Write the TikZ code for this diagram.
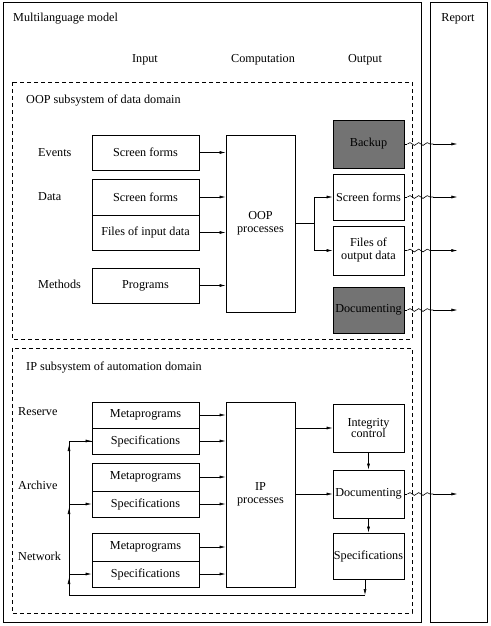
\documentclass[tikz,border=0pt]{standalone}
\usepackage{fontspec}
\setmainfont{Liberation Serif}
\usetikzlibrary{arrows.meta,decorations.pathmorphing}
\definecolor{boxgray}{RGB}{115,115,115}
\begin{document}
\begin{tikzpicture}[x=1pt,y=-1pt, font=\fontsize{12.2}{13}\selectfont,
 box/.style={draw, line width=0.8pt, inner sep=0pt, align=center},
 gbox/.style={box, fill=boxgray},
 arr/.style={line width=0.6pt, -{Latex[length=6pt,width=3pt]}},
 ln/.style={line width=0.6pt},
 frame/.style={draw, line width=1pt},
 dbox/.style={draw, line width=0.8pt, dash pattern=on 4pt off 3pt},
 wave/.style={line width=0.6pt, decorate, decoration={snake, amplitude=1.4pt, segment length=8.6pt}},
 lbl/.style={anchor=west, inner sep=0pt}
]
\useasboundingbox (0,0) rectangle (490,626);
% frames
\draw[frame] (3,3) rectangle (421,622);
\draw[frame] (430,3) rectangle (487,622);
\draw[dbox] (12,82) rectangle (412,339);
\draw[dbox] (12,348) rectangle (412,613);
% titles
\node[lbl] (tml) at (13,19) {Multilanguage model};
\node (trep) at (458,19) {Report};
\node (tin) at (145,60) {Input};
\node (tcomp) at (263,60) {Computation};
\node (tout) at (365,60) {Output};
\node[lbl] (toop) at (26,101) {OOP subsystem of data domain};
\node[lbl] (tip) at (26,368) {IP subsystem of automation domain};
% OOP labels
\node[lbl] (lev) at (38,153) {Events};
\node[lbl] (lda) at (38,197) {Data};
\node[lbl] (lme) at (38,284) {Methods};
% OOP input boxes
\node[box, minimum width=107pt, minimum height=35pt] (ev) at (145.5,152.5) {Screen forms};
\node[box, minimum width=107pt, minimum height=36pt] (d1) at (145.5,197) {Screen forms};
\node[box, minimum width=107pt, minimum height=35pt] (d2) at (145.5,232.5) {Files of input data};
\node[box, minimum width=107pt, minimum height=35pt] (prog) at (145.5,285.5) {Programs};
\node[box, minimum width=69pt, minimum height=177pt] (oop) at (260.5,223.5) {OOP\\processes};
% OOP outputs
\node[gbox, minimum width=71pt, minimum height=48pt] (backup) at (368.5,144) {Backup};
\node[box, minimum width=71pt, minimum height=46pt] (osf) at (368.5,197) {Screen forms};
\node[box, minimum width=71pt, minimum height=49pt] (ofi) at (368.5,250.5) {Files of\\output data};
\node[gbox, minimum width=71pt, minimum height=46pt] (odoc) at (368.5,310) {Documenting};
% OOP arrows
\foreach \n in {ev,d1,d2,prog} \draw[arr] (\n.east) -- (\n.east -| oop.west);
\coordinate (br) at (314,223);
\draw[ln] (oop.east |- br) -- (br);
\draw[arr] (br) |- (osf.west);
\draw[arr] (br) |- (ofi.west);
% waves to report
\foreach \n in {backup,osf,ofi,odoc}{
  \draw[ln] (\n.east) -- ++(3,0) coordinate (wa);
  \draw[wave] (wa) -- ++(26,0) coordinate (wb);
  \draw[arr] (wb) -- ++(24,0);
}
% IP labels
\node[lbl] (lre) at (18,412) {Reserve};
\node[lbl] (lar) at (18,485) {Archive};
\node[lbl] (lne) at (18,556) {Network};
% IP input boxes
\node[box, minimum width=107pt, minimum height=26pt] (m1) at (145.5,415) {Metaprograms};
\node[box, minimum width=107pt, minimum height=26pt] (s1) at (145.5,441) {Specifications};
\node[box, minimum width=107pt, minimum height=28pt] (m2) at (145.5,477) {Metaprograms};
\node[box, minimum width=107pt, minimum height=26pt] (s2) at (145.5,504) {Specifications};
\node[box, minimum width=107pt, minimum height=28pt] (m3) at (145.5,547) {Metaprograms};
\node[box, minimum width=107pt, minimum height=26pt] (s3) at (145.5,574) {Specifications};
\node[box, minimum width=69pt, minimum height=185pt] (ip) at (260.5,494.5) {IP\\processes};
% IP outputs
\node[box, minimum width=71pt, minimum height=48pt, font=\fontsize{12.2}{11.5}\selectfont] (ic) at (368.5,428) {Integrity\\control};
\node[box, minimum width=71pt, minimum height=48pt] (idoc) at (368.5,494) {Documenting};
\node[box, minimum width=71pt, minimum height=46pt] (ispec) at (368.5,556) {Specifications};
% IP arrows
\foreach \n in {m1,s1,m2,s2,m3,s3} \draw[arr] (\n.east) -- (\n.east -| ip.west);
\draw[arr] (ic.west -| ip.east) -- (ic.west);
\draw[arr] (idoc.west -| ip.east) -- (idoc.west);
\draw[arr] (ic.south) -- (idoc.north);
\draw[arr] (idoc.south) -- (ispec.north);
\draw[ln] (idoc.east) -- ++(3,0) coordinate (wa);
\draw[wave] (wa) -- ++(26,0) coordinate (wb);
\draw[arr] (wb) -- ++(24,0);
% feedback loop
\coordinate (fb1) at (365,595);
\coordinate (fb2) at (69,595);
\draw[arr] (ispec.south -| fb1) -- (fb1);
\draw[ln] (fb1) -- (fb2) |- (s1.west);
\foreach \n in {s1,s2,s3}{
  \draw[arr] (fb2 |- \n.west) -- (\n.west);
  \draw[arr] (fb2 |- \n.west) ++(0,14) -- ++(0,-10);
}
\end{tikzpicture}
\end{document}
